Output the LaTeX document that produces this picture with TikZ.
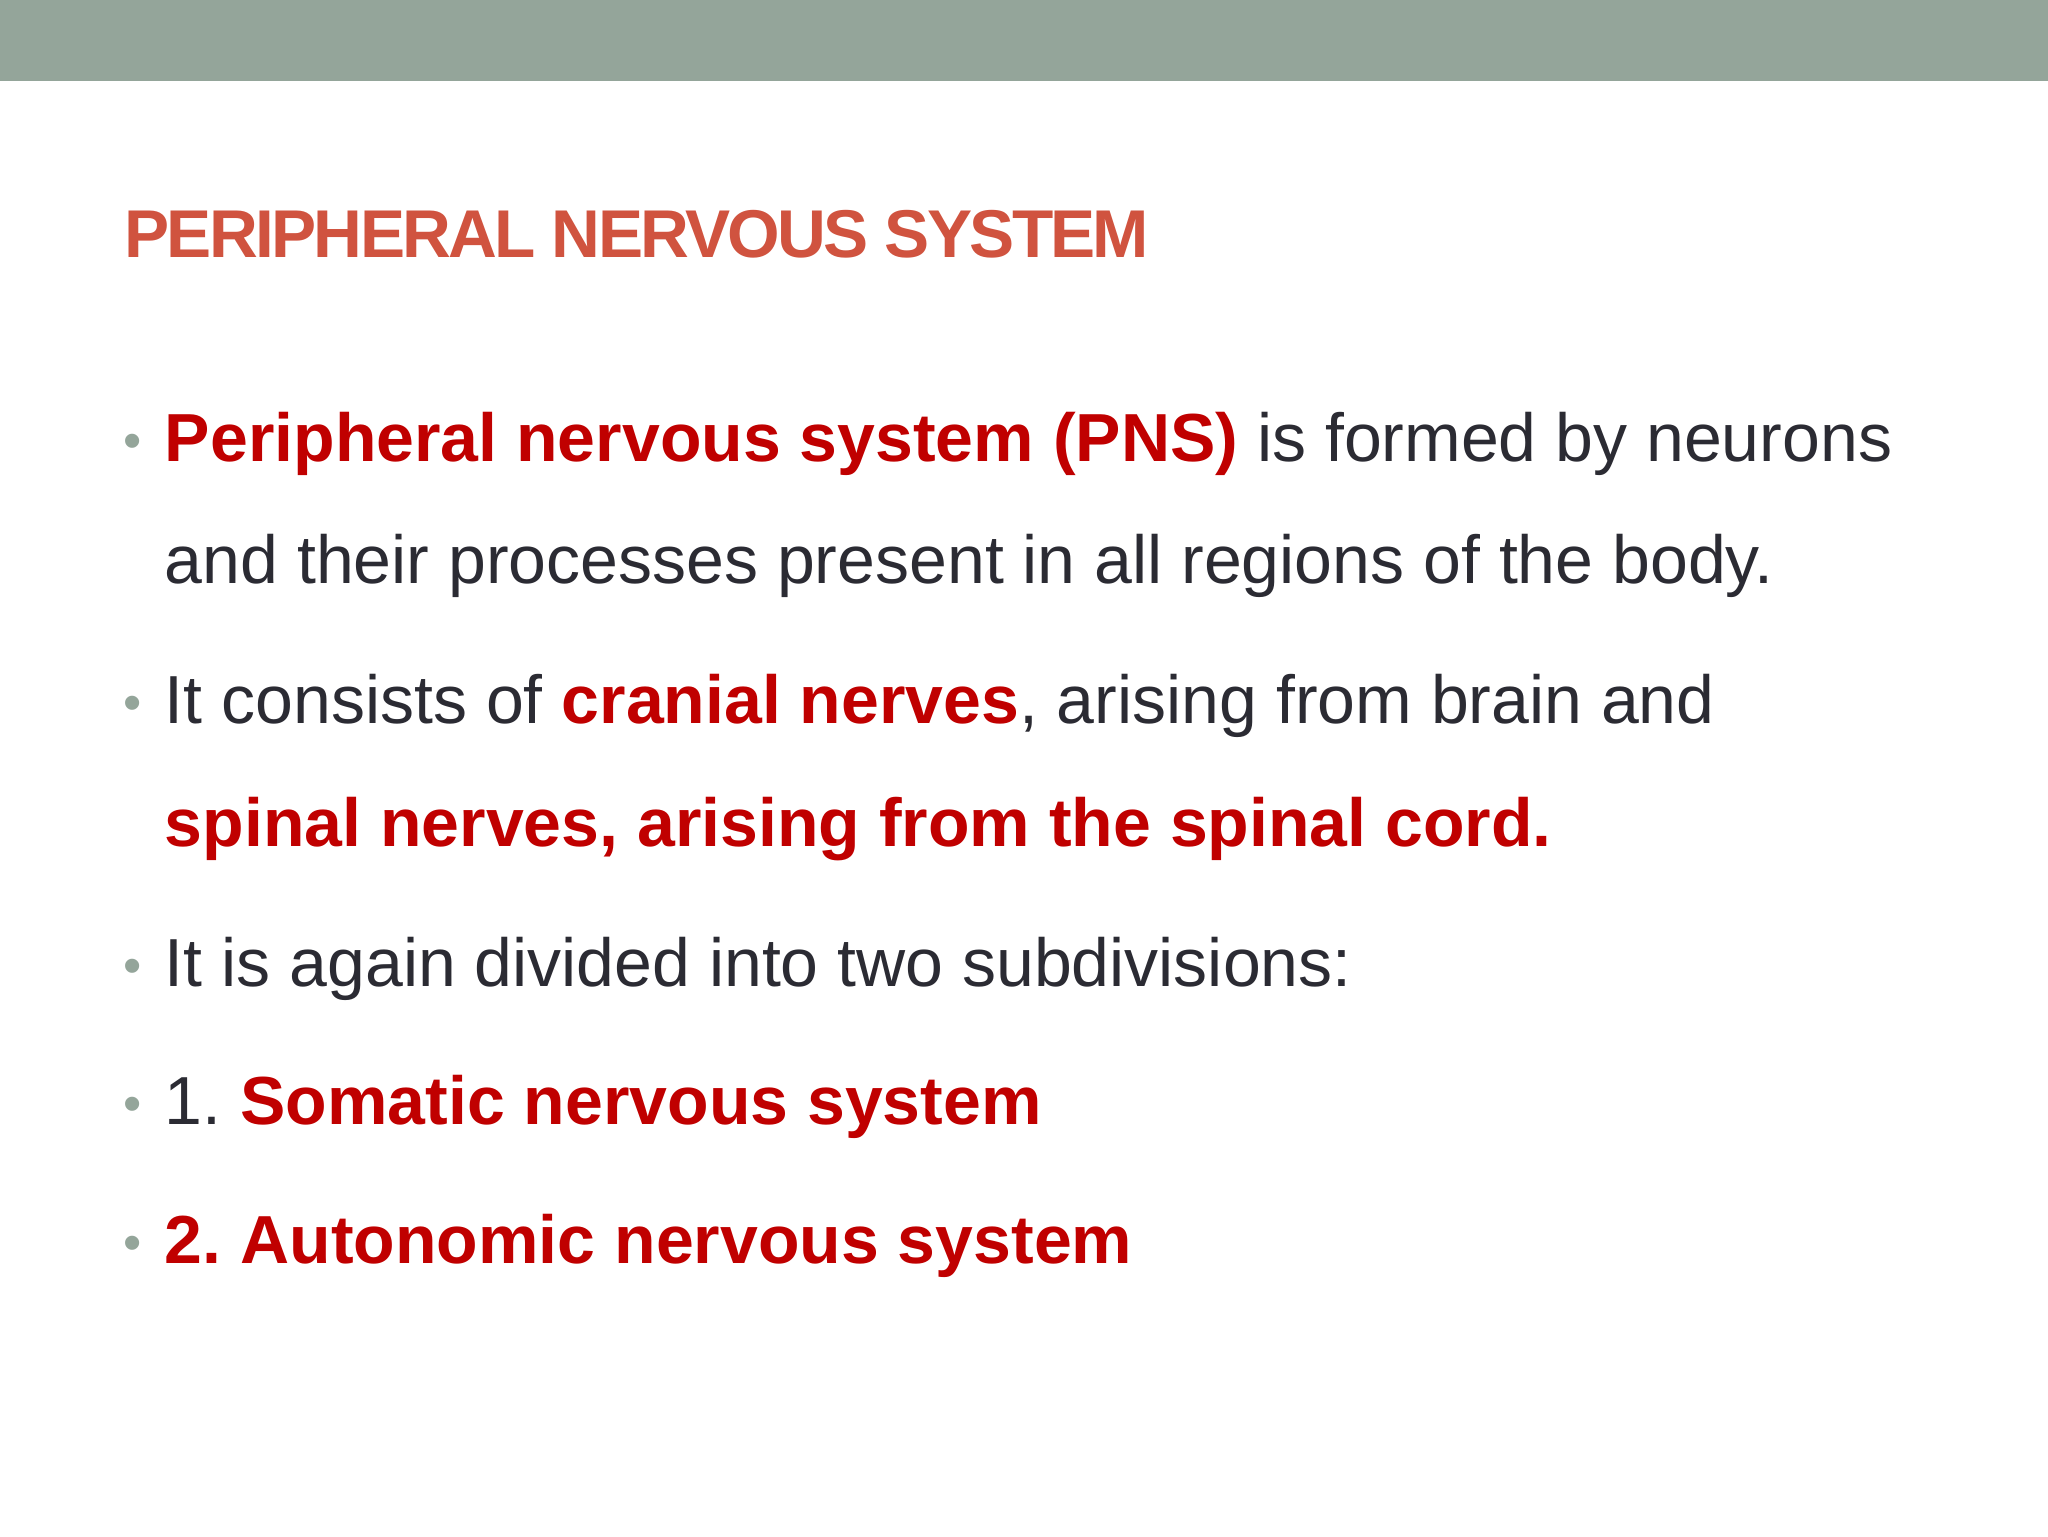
\documentclass[tikz,border=0pt]{standalone}
\usepackage{fontspec}
\setmainfont{Liberation Sans}
\definecolor{bar}{HTML}{94A59A}
\definecolor{ttl}{HTML}{D0533F}
\definecolor{rd}{HTML}{C00000}
\definecolor{dk}{HTML}{2B2B33}
\definecolor{bul}{HTML}{94A59A}
\begin{document}
\frenchspacing
\begin{tikzpicture}[x=0.65306pt,y=-0.65306pt,
  txt/.style={anchor=base west,inner sep=0pt,text=dk,font=\fontsize{34}{40}\selectfont},
  bl/.style={anchor=base west,inner sep=0pt,text=bul,font=\fontsize{26}{30}\selectfont}]
\useasboundingbox (0,0) rectangle (1568,1176);
\fill[bar] (0,0) rectangle (1568,62);
\node[anchor=base west,inner sep=0pt,text=ttl,font=\fontsize{33.8}{38}\selectfont\bfseries\addfontfeature{LetterSpace=-4}] (title) at (95,197) {PERIPHERAL NERVOUS SYSTEM};
\node[bl] (b1) at (94,351) {•};
\node[txt] (l1) at (126,353) {\textcolor{rd}{\bfseries Peripheral nervous system (PNS)} is formed by neurons};
\node[txt] (l2) at (126,447) {and their processes present in all regions of the body.};
\node[bl] (b2) at (94,552) {•};
\node[txt] (l3) at (126,554) {It consists of \textcolor{rd}{\bfseries cranial nerves}, arising from brain and};
\node[txt] (l4) at (126,648) {\textcolor{rd}{\bfseries spinal nerves, arising from the spinal cord.}};
\node[bl] (b3) at (94,753) {•};
\node[txt] (l5) at (126,755) {It is again divided into two subdivisions:};
\node[bl] (b4) at (94,859) {•};
\node[txt] (l6) at (126,861) {1. \textcolor{rd}{\bfseries Somatic nervous system}};
\node[bl] (b5) at (94,965) {•};
\node[txt] (l7) at (126,967) {\textcolor{rd}{\bfseries 2. Autonomic nervous system}};
\end{tikzpicture}
\end{document}
